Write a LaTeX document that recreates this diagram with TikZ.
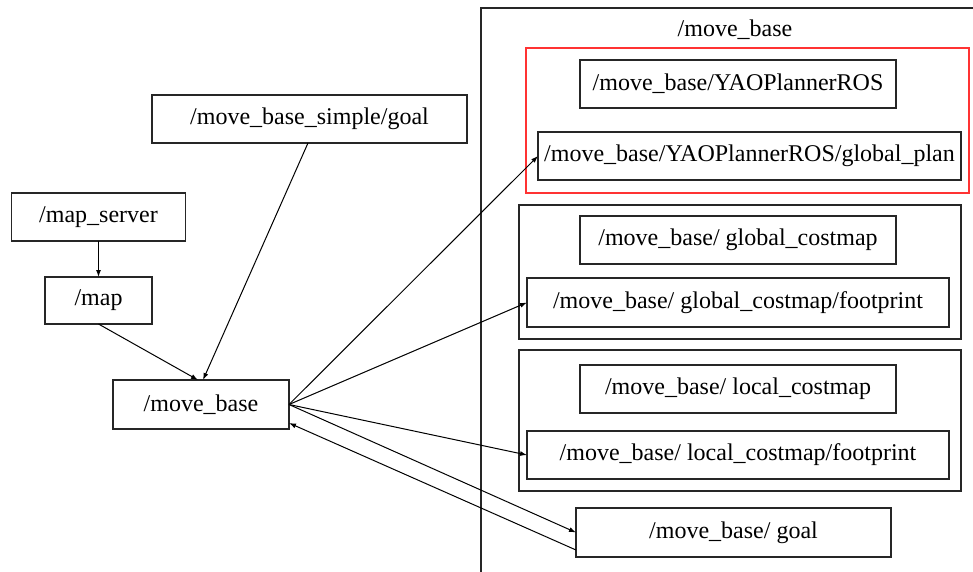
\documentclass[tikz,border=0pt]{standalone}
\usepackage{fontspec}
\setmainfont{Liberation Serif}
\usetikzlibrary{arrows.meta}
\begin{document}
\begin{tikzpicture}[x=1pt,y=-1pt,
  font=\fontsize{24}{28}\selectfont,
  box/.style={draw=black!85,line width=1.2pt,inner sep=0pt,outer sep=0pt,minimum height=48pt},
  grp/.style={draw=black!85,line width=1.2pt},
  conn/.style={line width=1pt,-{Latex[length=7pt,width=5pt]}}]
\useasboundingbox (0,0) rectangle (973,572);
% outer cluster
\draw[grp] (481,575) -- (481,8) -- (980,8);
\node (outerlabel) at (735,30) {/move\_base};
\draw[draw=red!80,line width=1.2pt] (526,48) rectangle (969,193);
\draw[grp] (519,205) rectangle (961,339);
\draw[grp] (519,350) rectangle (961,491);
% nodes
\node[box,minimum width=175pt] (simplegoal) at (309.5,119) [minimum width=315pt] {/move\_base\_simple/goal};
\node[box,minimum width=174pt] (mapserver) at (98.5,217) {/map\_server};
\node[box,minimum width=107pt,minimum height=47pt] (map) at (98.5,300.5) {/map};
\node[box,minimum width=176pt,minimum height=49pt] (movebase) at (201,404.5) {/move\_base};
\node[box,minimum width=316pt] (yao) at (738,84) {/move\_base/YAOPlannerROS};
\node[box,minimum width=423pt] (gplan) at (749.5,156) {/move\_base/YAOPlannerROS/global\_plan};
\node[box,minimum width=316pt] (gcm) at (738,240) {/move\_base/ global\_costmap};
\node[box,minimum width=422pt,minimum height=49pt] (gfp) at (738,302.5) {/move\_base/ global\_costmap/footprint};
\node[box,minimum width=316pt] (lcm) at (738,389) {/move\_base/ local\_costmap};
\node[box,minimum width=422pt] (lfp) at (738,455) {/move\_base/ local\_costmap/footprint};
\node[box,minimum width=315pt,minimum height=49pt] (goal) at (733.5,532.5) {/move\_base/ goal};
% connectors
\draw[conn] (mapserver.south) -- (mapserver.south |- map.north);
\draw[conn] (map.south) -- ([xshift=-3pt]movebase.north);
\draw[conn] ([xshift=-1.5pt]simplegoal.south) -- ([xshift=2pt]movebase.north);
\draw[conn] (movebase.east) -- (gplan.west);
\draw[conn] (movebase.east) -- (gfp.west);
\draw[conn] (movebase.east) -- (lfp.west);
\draw[conn] (movebase.east) -- (goal.west);
\draw[conn] ([yshift=7pt]goal.south west) -- ([yshift=6pt]movebase.south east);
\end{tikzpicture}
\end{document}
